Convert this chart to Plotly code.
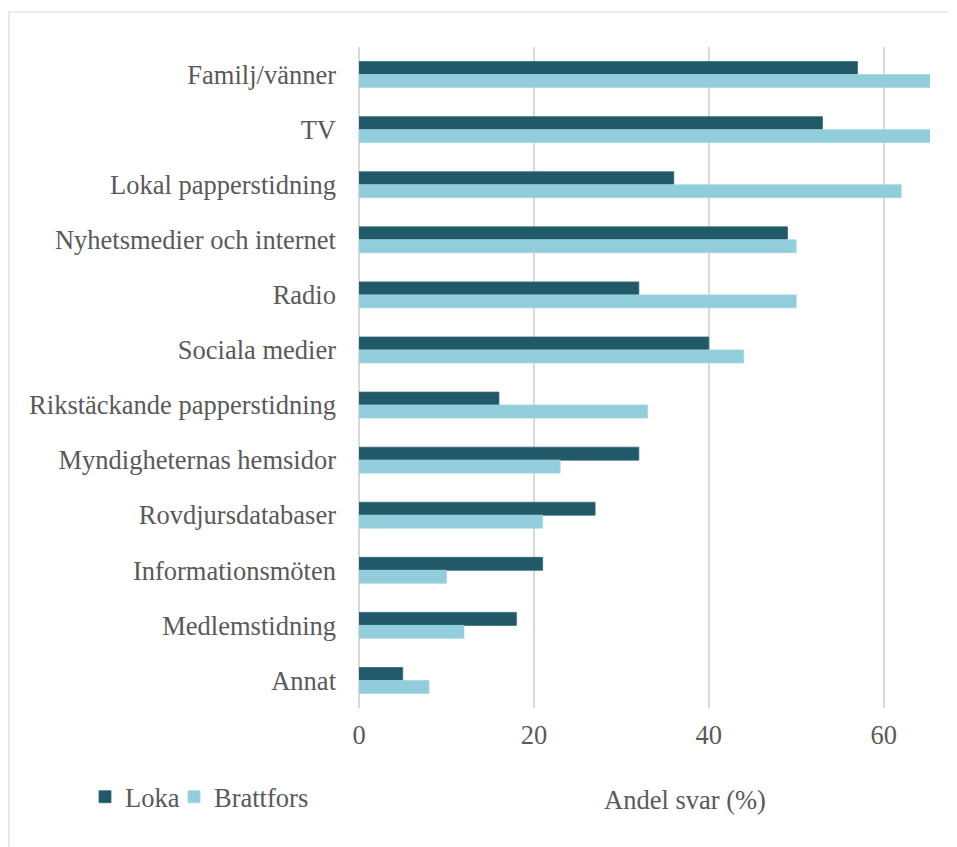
import plotly.graph_objects as go

categories = ["Familj/vänner", "TV", "Lokal papperstidning", "Nyhetsmedier och internet",
              "Radio", "Sociala medier", "Rikstäckande papperstidning", "Myndigheternas hemsidor",
              "Rovdjursdatabaser", "Informationsmöten", "Medlemstidning", "Annat"]
loka = [57, 53, 36, 49, 32, 40, 16, 32, 27, 21, 18, 5]
brattfors = [66, 66, 62, 50, 50, 44, 33, 23, 21, 10, 12, 8]
x_ticks = [0, 20, 40, 60]

W, H = 957, 847
OFF = 8  # page body margin
L, R, T, B = 359 - OFF, 27 + OFF, 47 - OFF, 139 + OFF
pw, ph = W - L - R, H - T - B


def px_x(sx):
    return (sx - OFF - L) / pw


def px_y(sy):
    return (H - B - (sy - OFF)) / ph


fig = go.Figure()
fig.add_trace(go.Bar(y=categories, x=loka, name="Loka", orientation="h", legend="legend",
                     marker=dict(color="#215968", line=dict(color="#2f6a7a", width=0.8))))
fig.add_trace(go.Bar(y=categories, x=brattfors, name="Brattfors", orientation="h", legend="legend2",
                     marker=dict(color="#92CDDC", line=dict(color="#a3d6e3", width=0.8))))

font_family = "Liberation Serif, Times New Roman, serif"
FS = 26.5
leg_common = dict(orientation="h", xanchor="left", y=px_y(797), yanchor="middle",
                  font=dict(family=font_family, size=FS, color="#595959"),
                  itemwidth=30, bgcolor="rgba(0,0,0,0)")
fig.update_layout(
    width=W, height=H,
    margin=dict(l=L, r=R, t=T, b=B),
    paper_bgcolor="white", plot_bgcolor="white",
    barmode="group", bargap=0.53, bargroupgap=0,
    font=dict(family=font_family, size=FS, color="#595959"),
    showlegend=True,
    legend=dict(x=px_x(85), **leg_common),
    legend2=dict(x=px_x(174), **leg_common),
    xaxis=dict(range=[0, 65.3], tickvals=x_ticks, showgrid=True, gridcolor="#d9d9d9",
               gridwidth=1.5, zeroline=True, zerolinecolor="#d9d9d9", zerolinewidth=1.5,
               showline=False, ticks="", ticklabelstandoff=8,
               tickfont=dict(family=font_family, size=FS, color="#595959")),
    yaxis=dict(categoryorder="array", categoryarray=categories, autorange="reversed",
               showgrid=False, showline=False, ticks="", ticklabelstandoff=22,
               tickfont=dict(family=font_family, size=FS, color="#595959")),
    annotations=[dict(text="Andel svar (%)", x=px_x(685), y=px_y(800),
                      xref="paper", yref="paper", showarrow=False,
                      font=dict(family=font_family, size=FS, color="#595959"),
                      xanchor="center", yanchor="middle")],
    shapes=[dict(type="rect", xref="paper", yref="paper",
                 x0=(1 - L) / pw, x1=px_x(W + 30),
                 y0=px_y(12), y1=px_y(H + 30),
                 line=dict(color="#d9d9d9", width=1.2), fillcolor="rgba(0,0,0,0)", layer="below")],
)

fig.write_html("out.html")
